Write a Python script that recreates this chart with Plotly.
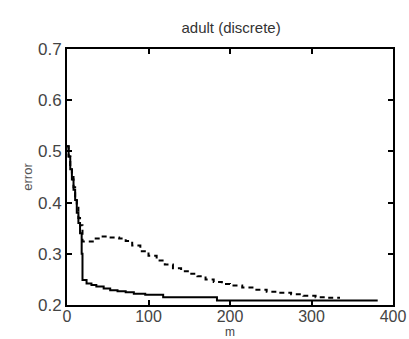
import plotly.graph_objects as go

solid_m = [0, 2, 4, 6, 8, 10, 12, 14, 16, 18, 19, 24, 30, 36, 45, 53, 62, 72, 82, 96, 118, 150, 184, 250, 320, 380]
solid_err = [0.51, 0.49, 0.465, 0.445, 0.425, 0.405, 0.38, 0.36, 0.34, 0.30, 0.249, 0.242, 0.239, 0.236, 0.232, 0.229, 0.227, 0.225, 0.222, 0.220, 0.215, 0.215, 0.209, 0.209, 0.209, 0.207]

dash_m = [0, 2, 4, 6, 8, 10, 12, 14, 16, 19, 27, 33, 41, 50, 64, 72, 80, 90, 100, 110, 120, 130, 140, 150, 160, 170, 180, 190, 200, 215, 230, 245, 260, 275, 290, 305, 320, 335]
dash_err = [0.51, 0.49, 0.47, 0.45, 0.43, 0.41, 0.39, 0.37, 0.356, 0.324, 0.324, 0.330, 0.334, 0.332, 0.330, 0.325, 0.316, 0.305, 0.296, 0.287, 0.279, 0.272, 0.266, 0.261, 0.256, 0.250, 0.245, 0.241, 0.238, 0.234, 0.230, 0.226, 0.224, 0.221, 0.218, 0.215, 0.214, 0.214]

x_ticks = [0, 100, 200, 300, 400]
y_ticks = [0.2, 0.3, 0.4, 0.5, 0.6, 0.7]

fig = go.Figure()
fig.add_trace(go.Scatter(x=dash_m, y=dash_err, mode="lines", line_shape="hv",
                         line=dict(color="black", width=2, dash="5px,4px"), showlegend=False))
fig.add_trace(go.Scatter(x=solid_m, y=solid_err, mode="lines", line_shape="hv",
                         line=dict(color="black", width=2), showlegend=False))

axis_common = dict(showline=True, linecolor="black", linewidth=2, mirror="ticks",
                   ticks="inside", ticklen=5, tickwidth=1.5, tickcolor="black",
                   showgrid=False, zeroline=False, automargin=False,
                   tickfont=dict(family="Arial, Liberation Sans", size=17, color="#444"))

fig.update_layout(
    width=409, height=339,
    margin=dict(l=67, r=16, t=49, b=34),
    paper_bgcolor="white", plot_bgcolor="white",
    title=dict(text="adult (discrete)", x=0.565, xanchor="center", y=1 - 28 / 339, yanchor="middle",
               font=dict(family="Arial, Liberation Sans", size=15, color="#333")),
    xaxis=dict(range=[0, 400], tickvals=x_ticks, ticktext=[str(v) for v in x_ticks],
               ticklabelstandoff=-4,
               **{**axis_common, "tickfont": dict(family="Arial, Liberation Sans", size=16, color="#444")}),
    yaxis=dict(range=[0.2, 0.7], tickvals=y_ticks, ticktext=[f"{v:.1f}" for v in y_ticks],
               title=dict(text="error", standoff=2, font=dict(family="Arial, Liberation Sans", size=13, color="#555")),
               **axis_common),
    annotations=[dict(text="m", xref="paper", yref="paper", x=0.5, y=-(332 - 305) / 256,
                      xanchor="center", yanchor="middle", showarrow=False,
                      font=dict(family="Arial, Liberation Sans", size=12, color="#444"))],
)

fig.write_html("out.html")
